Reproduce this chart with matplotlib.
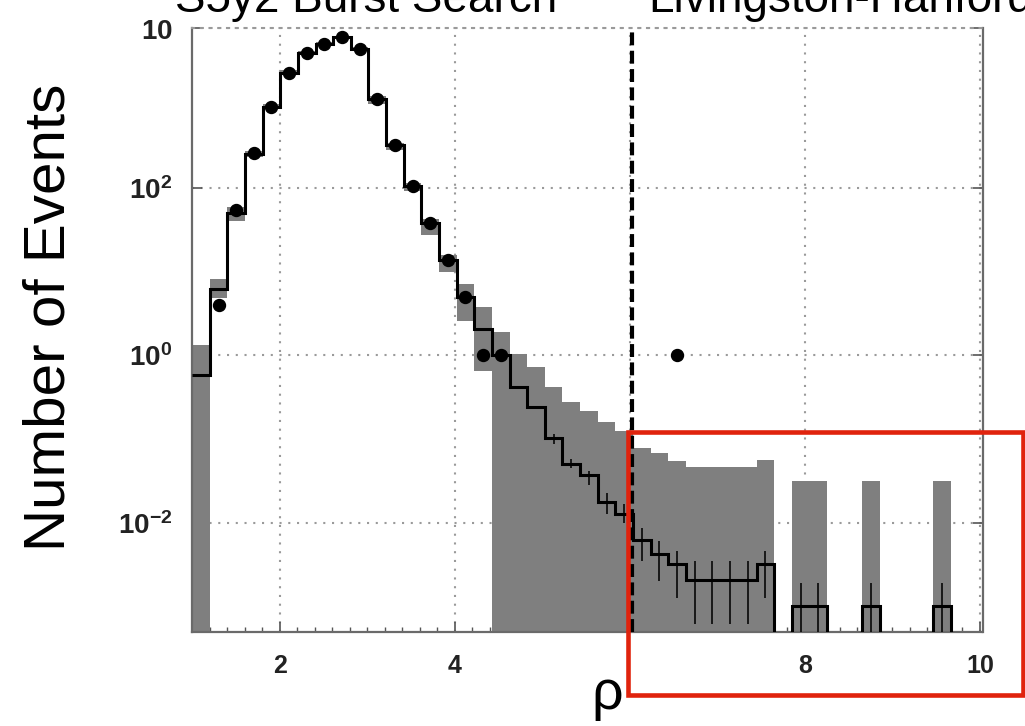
import numpy as np
import matplotlib
matplotlib.use("Agg")
import matplotlib.pyplot as plt
from matplotlib import font_manager as fm
from matplotlib.patches import Rectangle
from matplotlib.ticker import MultipleLocator, NullLocator, FixedLocator, FixedFormatter


def pick(names):
    for n in names:
        try:
            fm.findfont(fm.FontProperties(family=n), fallback_to_default=False)
            return n
        except Exception:
            pass
    return "DejaVu Sans"


NARROW = pick(["Liberation Sans Narrow", "Liberation Sans"])
SANS = pick(["Liberation Sans", "DejaVu Sans"])
plt.rcParams["mathtext.fontset"] = "custom"
plt.rcParams["mathtext.rm"] = SANS
plt.rcParams["mathtext.bf"] = SANS + ":bold"

# ---------------- data ----------------
bin_start = 0.995
bin_width = 0.2016
n_bins = 44

# background estimate (time slides), per bin
background = [0.59, 6.2, 50, 257, 933, 2400, 4070, 5250, 6310, 4570,
              1175, 324, 105, 38, 13.8, 5.0, 2.09, 1.0, 0.417, 0.245,
              0.102, 0.051, 0.037, 0.0178, 0.0129, 0.0063, 0.0042, 0.0032, 0.0021, 0.0021,
              0.0021, 0.0021, 0.0032, 0, 0.00102, 0.00102, 0, 0, 0.00102, 0,
              0, 0, 0.00102, 0]

# grey band upper / lower limit per bin (0 = down to the axis)
band_upper = [1.32, 8.3, 60, 280, 1000, 2550, 4300, 5550, 6650, 4800,
              1260, 347, 115, 42.7, 15.8, 7.2, 3.8, 1.9, 1.05, 0.72,
              0.42, 0.28, 0.22, 0.162, 0.126, 0.079, 0.068, 0.055, 0.046, 0.046,
              0.046, 0.046, 0.056, 0, 0.032, 0.032, 0, 0, 0.032, 0,
              0, 0, 0.032, 0]
band_lower = [0, 4.8, 40, 235, 870, 2250, 3850, 5000, 6000, 4300,
              1000, 288, 93, 27.5, 10.0, 2.6, 0.66, 0, 0, 0,
              0, 0, 0, 0, 0, 0, 0, 0, 0, 0,
              0, 0, 0, 0, 0, 0, 0, 0, 0, 0,
              0, 0, 0, 0]

# zero-lag (foreground) event counts per bin
foreground = [0, 4, 55, 263, 933, 2400, 4070, 5250, 6310, 4570,
              1175, 324, 105, 38, 14, 5, 1, 1, 0, 0,
              0, 0, 0, 0, 0, 0, 0, 1, 0, 0,
              0, 0, 0, 0, 0, 0, 0, 0, 0, 0,
              0, 0, 0, 0]

# error bars on background (bin index, low, high); low 0 = to axis
err_bins = [20, 21, 22, 23, 24, 25, 26, 27, 28, 29, 30, 31, 32, 34, 35, 38, 42]
err_low = [0.087, 0.045, 0.028, 0.0126, 0.010, 0.00347, 0.0020, 0.00126, 0.00062, 0.00062,
           0.00062, 0.00062, 0.00126, 0, 0, 0, 0]
err_high = [0.115, 0.058, 0.042, 0.023, 0.0166, 0.0087, 0.0060, 0.0046, 0.00347, 0.00347,
            0.00347, 0.00347, 0.0046, 0.0019, 0.0019, 0.0019, 0.0019]

threshold = 6.02
x_ticks = [2, 4, 6, 8, 10]
x_ticklabels = ["2", "4", "", "8", "10"]
y_ticks = [1e-2, 1e0, 1e2, 10 ** 3.913]
y_ticklabels = [r"$\mathbf{10^{-2}}$", r"$\mathbf{10^{0}}$", r"$\mathbf{10^{2}}$", r"$\mathbf{10}$"]
ylabel = "Number of Events"
xlabel = "ρ"
title_left = "S5y2 Burst Search"
title_right = "Livingston-Hanford"

# ---------------- figure ----------------
W, H = 1025, 726
fig = plt.figure(figsize=(W / 100, H / 100), dpi=100)
ax = fig.add_axes([192 / W, 1 - 632 / H, (982.5 - 192) / W, (632 - 28) / H])
ax.set_yscale("log")
ymin, ymax = 10 ** -3.304, 10 ** 3.913
ax.set_xlim(0.9943, 10.029)
ax.set_ylim(ymin, ymax)
floor = ymin / 100

edges = bin_start + bin_width * np.arange(n_bins + 1)
centers = 0.5 * (edges[:-1] + edges[1:])
bg = np.array(background, float)
up = np.array(band_upper, float)
lo = np.array(band_lower, float)
fg = np.array(foreground, float)

# grey band
lo_f = np.where(lo > 0, lo, floor)
mask = up > 0
ax.bar(edges[:-1][mask], up[mask] - lo_f[mask], width=bin_width, bottom=lo_f[mask],
       align="edge", color="#7f7f7f", linewidth=0, zorder=2)

# background step line
ax.stairs(np.where(bg > 0, bg, floor), edges, baseline=None, color="black",
          linewidth=2.2, zorder=4)

# error bars
eb = np.array(err_bins)
elo = np.array(err_low, float)
ax.vlines(centers[eb], np.where(elo > 0, elo, floor), err_high, color="#111111",
          linewidth=1.3, zorder=3)

# foreground points
fm_ = fg > 0
ax.plot(centers[fm_], fg[fm_], "o", color="black", markersize=8.6, zorder=5)

# threshold line
ax.axvline(threshold, color="black", linewidth=3, dashes=(3.1, 1.3), zorder=6)

# grid & axes styling
ax.set_axisbelow(True)
ax.grid(True, which="major", color="#9a9a9a", linewidth=1.5, linestyle=(0, (1, 3.2)))
ax.xaxis.set_major_locator(FixedLocator(x_ticks))
ax.xaxis.set_major_formatter(FixedFormatter(x_ticklabels))
ax.xaxis.set_minor_locator(MultipleLocator(0.2))
ax.yaxis.set_major_locator(FixedLocator(y_ticks))
ax.yaxis.set_major_formatter(FixedFormatter(y_ticklabels))
ax.yaxis.set_minor_locator(NullLocator())
ax.tick_params(axis="both", which="both", direction="in", right=True, top=False,
               colors="#555555", labelcolor="#222222")
ax.tick_params(axis="both", which="major", length=7, width=1.2)
ax.tick_params(axis="x", which="minor", length=3.5, width=1)
ax.tick_params(axis="x", which="major", pad=16, labelsize=18)
ax.tick_params(axis="y", which="major", pad=14, labelsize=20)
for lab in ax.get_xticklabels():
    lab.set_fontfamily(SANS)
    lab.set_fontweight("bold")
for s in ["left", "right", "bottom"]:
    ax.spines[s].set_color("#6a6a6a")
    ax.spines[s].set_linewidth(1.6)
ax.spines["top"].set_color("#9a9a9a")
ax.spines["top"].set_linewidth(1.5)
ax.spines["top"].set_linestyle((0, (1, 3.2)))

# texts
fig.text(50 / W, 1 - 317 / H, ylabel, rotation=90, ha="center", va="center",
         fontsize=51 if NARROW != SANS else 42, family=NARROW)
fig.text(607 / W, 1 - 709 / H, xlabel, ha="center", va="baseline",
         fontsize=40, family=SANS)
tsize = 40 if NARROW != SANS else 33
fig.text(175 / W, 1 - 12 / H, title_left, ha="left", va="baseline",
         fontsize=tsize, family=NARROW)
fig.text(648 / W, 1 - 12 / H, title_right, ha="left", va="baseline",
         fontsize=tsize, family=NARROW)

# red highlight box
fig.patches.append(Rectangle((628 / W, 1 - 695 / H), (1023 - 628) / W, (695 - 431.5) / H,
                             transform=fig.transFigure, fill=False,
                             edgecolor="#e0230d", linewidth=3.3, zorder=10))

fig.savefig("out.png", dpi=100)
